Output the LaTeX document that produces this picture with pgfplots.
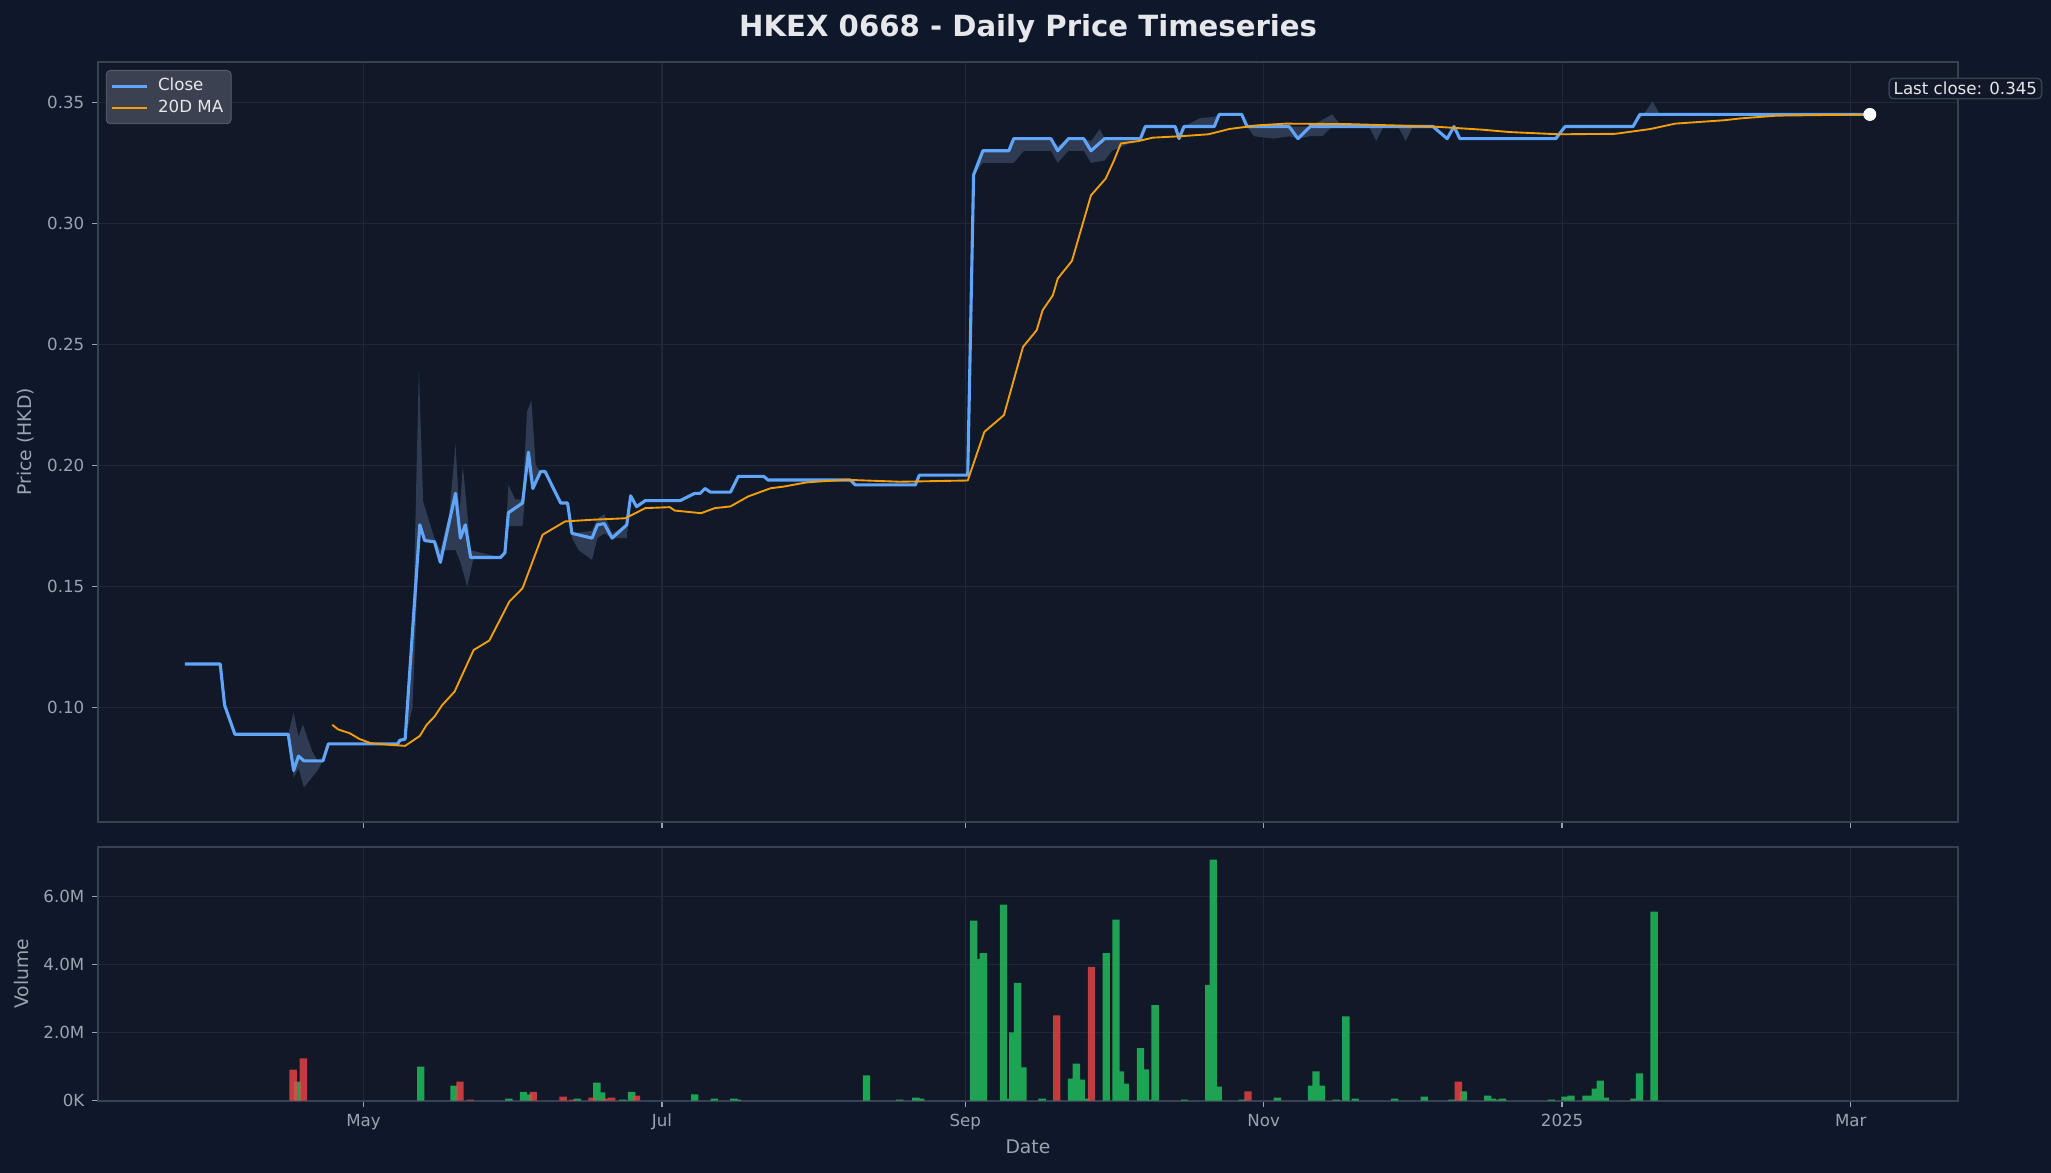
\documentclass[border=0pt]{standalone}
\usepackage{fontspec}
\setmainfont{DejaVu Sans}
\usepackage{pgfplots}
\pgfplotsset{compat=1.18}

\definecolor{figbg}{HTML}{0F172A}
\definecolor{axbg}{HTML}{111827}
\definecolor{spine}{HTML}{374151}
\definecolor{gridc}{HTML}{1F2738}
\definecolor{ticklbl}{HTML}{9CA3AF}
\definecolor{titlec}{HTML}{E5E7EB}
\definecolor{closec}{HTML}{60A5FA}
\definecolor{mac}{HTML}{F59E0B}
\definecolor{bandc}{HTML}{2E3B52}
\definecolor{upc}{HTML}{22C55E}
\definecolor{downc}{HTML}{EF4444}
\definecolor{legfill}{HTML}{3B4150}
\definecolor{legedge}{HTML}{566072}

\pgfplotsset{
  darkax/.style={
    scale only axis,
    width=892.8pt,
    xmin=-54.3, xmax=325.9,
    axis background/.style={fill=axbg},
    axis line style={spine, line width=0.9pt},
    tick align=outside,
    xtick pos=bottom, ytick pos=left,
    major tick length=3pt,
    every tick/.style={ticklbl, line width=0.7pt},
    tick label style={font=\fontsize{8}{9.6}\selectfont, text=ticklbl},
    label style={font=\fontsize{9}{10.8}\selectfont, text=ticklbl},
    /pgf/number format/assume math mode=true,
    grid=major,
    major grid style={gridc, line width=0.6pt},
    xtick={0,61,123,184,245,304},
  }
}

\begin{document}
\begin{tikzpicture}
\fill[figbg] (0pt,0pt) rectangle (984.5pt,563pt);
\path[use as bounding box] (0pt,0pt) rectangle (984.5pt,563pt);

% price panel
\begin{axis}[darkax,
  at={(47pt,168.6pt)}, anchor=south west,
  height=364.8pt,
  ymin=0.0529, ymax=0.3668,
  ytick={0.10,0.15,0.20,0.25,0.30,0.35},
  yticklabel style={/pgf/number format/.cd, fixed, fixed zerofill, precision=2},
  xticklabels={},
  ylabel={Price (HKD)},
  ylabel style={at={(axis description cs:-0.0388,0.5)}, anchor=center},
  legend style={at={(rel axis cs:0,1)}, anchor=north west, xshift=3.8pt, yshift=-4pt,
    fill=legfill, draw=legedge, rounded corners=2pt, text=titlec,
    font=\fontsize{8}{9.6}\selectfont, inner sep=1.8pt, row sep=-1pt,
    /tikz/every odd column/.append style={column sep=2.5pt}},
  legend cell align=left,
]
% high-low range
\addplot[forget plot, draw=none, fill=bandc] coordinates {
(-15.4,0.089)(-14.3,0.098)(-13.3,0.088)(-12.4,0.093)(-10.5,0.082)(-9.4,0.078)(-8.3,0.078)(-7.2,0.085)
(-8.3,0.078)(-9.4,0.074)(-12.2,0.067)(-13.3,0.075)(-14.3,0.071)(-15.4,0.089)};
\addplot[forget plot, draw=none, fill=bandc] coordinates {
(7.0,0.085)(8.5,0.087)(10.3,0.15)(11.3,0.24)(12.2,0.185)(14.5,0.17)(15.7,0.165)(17.5,0.18)
(18.8,0.209)(19.6,0.18)(20.3,0.20)(21.9,0.165)(28,0.162)(28.9,0.164)(29.6,0.192)(31,0.186)
(32.5,0.186)(33.4,0.222)(34.3,0.227)(35.2,0.20)(36.2,0.1975)(37.1,0.1975)(40.3,0.1845)
(41.7,0.1845)(42.6,0.172)(46.7,0.173)(47.8,0.178)(49.2,0.180)(50.8,0.172)(53.8,0.1755)
(54.6,0.1875)(55.8,0.183)(57.6,0.1855)
(55.8,0.183)(54.6,0.1875)(53.8,0.170)(50.8,0.170)(49.2,0.172)(47.8,0.170)(46.7,0.161)
(44,0.165)(42.6,0.170)(41.7,0.1845)(40.3,0.1845)(37.1,0.1975)(36.2,0.1975)(34.6,0.19)
(33.5,0.198)(32.5,0.175)(29.6,0.175)(28.9,0.164)(28,0.162)(22.5,0.162)(21.2,0.150)
(19.8,0.160)(18.8,0.165)(16.5,0.165)(15.7,0.160)(14.5,0.1685)(12.5,0.169)(11.5,0.1755)
(10,0.10)(8.5,0.087)(7,0.085)};
\addplot[forget plot, draw=none, fill=bandc] coordinates {
(124.7,0.32)(126.6,0.33)(131.9,0.33)(132.9,0.335)(140.5,0.335)(141.9,0.332)(144.1,0.335)
(147.2,0.335)(148.7,0.334)(150.5,0.339)(151.5,0.335)(158.8,0.335)(159.8,0.34)(165.9,0.34)
(166.7,0.337)(167.7,0.34)(171,0.3435)(173.9,0.344)(174.9,0.345)(179.5,0.345)(180.6,0.34)
(189.2,0.34)(191,0.34)(193.5,0.34)(198,0.345)(200,0.34)
(198,0.34)(196,0.336)(193.5,0.336)(191,0.335)(189.2,0.336)(186,0.335)(182,0.336)
(180.6,0.34)(179.5,0.345)(174.9,0.345)(173.9,0.34)(167.7,0.34)(166.7,0.335)(165.9,0.34)
(159.8,0.34)(158.8,0.335)(153,0.33)(151.5,0.326)(148.7,0.325)(147.2,0.33)(144.1,0.33)
(141.9,0.325)(140.5,0.33)(135,0.33)(132.9,0.325)(126.6,0.325)(124.7,0.32)};
\addplot[forget plot, draw=none, fill=bandc] coordinates {
(205.5,0.34)(207,0.334)(208.5,0.34)};
\addplot[forget plot, draw=none, fill=bandc] coordinates {
(211.5,0.34)(213,0.334)(214.5,0.34)};
\addplot[forget plot, draw=none, fill=bandc] coordinates {
(259.5,0.34)(262,0.346)(263.5,0.3505)(265,0.345)(260.9,0.345)(259.5,0.34)};

% close
\addplot[closec, line width=1.5pt, line join=round] coordinates {
(-36.5,0.118)(-29.3,0.118)(-28.4,0.101)(-26.3,0.089)(-15.4,0.089)(-14.3,0.074)(-13.3,0.080)
(-12.2,0.078)(-8.3,0.078)(-7.2,0.085)(7.0,0.085)(7.4,0.0865)(8.5,0.087)(11.5,0.1755)
(12.5,0.169)(14.5,0.1685)(15.7,0.160)(18.8,0.1885)(19.8,0.170)(20.8,0.1755)(21.9,0.162)
(28.0,0.162)(28.9,0.164)(29.6,0.1805)(32.5,0.1845)(33.7,0.2055)(34.6,0.1905)(36.2,0.1975)
(37.1,0.1975)(40.3,0.1845)(41.7,0.1845)(42.6,0.172)(46.7,0.170)(47.8,0.1755)(49.2,0.176)
(50.8,0.170)(53.8,0.1755)(54.6,0.1875)(55.8,0.183)(57.6,0.1855)(64.7,0.1855)(67.7,0.1885)
(68.8,0.1885)(69.8,0.1905)(70.9,0.189)(75.0,0.189)(76.6,0.1955)(81.8,0.1955)(82.7,0.194)
(99.5,0.194)(100.5,0.192)(112.8,0.192)(113.6,0.196)(123.5,0.196)(124.7,0.320)(126.6,0.330)
(131.9,0.330)(132.9,0.335)(140.5,0.335)(141.9,0.330)(144.1,0.335)(147.2,0.335)(148.7,0.330)
(151.5,0.335)(158.8,0.335)(159.8,0.340)(165.9,0.340)(166.7,0.335)(167.7,0.340)(173.9,0.340)
(174.9,0.345)(179.5,0.345)(180.6,0.340)(189.2,0.340)(191.0,0.335)(193.5,0.340)(218.6,0.340)
(221.5,0.335)(222.9,0.340)(224.1,0.335)(243.7,0.335)(245.6,0.340)(259.5,0.340)(260.9,0.345)
(307.9,0.345)};
\addlegendentry{Close}

% 20-day moving average
\addplot[mac, line width=0.9pt, line join=round] coordinates {
(-6.4,0.0929)(-5.2,0.0910)(-2.8,0.0894)(-0.8,0.0870)(1.5,0.0853)(5.6,0.0846)(8.5,0.0842)
(11.5,0.0883)(12.9,0.0929)(14.5,0.0963)(16.1,0.1011)(18.6,0.1066)(22.5,0.1238)(25.7,0.1277)
(29.8,0.1438)(32.5,0.1493)(36.6,0.1714)(41.2,0.1769)(46.7,0.1776)(53.5,0.1782)(57.6,0.1824)
(62.6,0.1828)(63.6,0.1814)(69.0,0.1803)(71.8,0.1824)(75.0,0.1831)(78.6,0.1872)(83.2,0.1906)
(85.9,0.1913)(90.5,0.1930)(93.2,0.1934)(98.7,0.1941)(109.6,0.1933)(123.5,0.1938)
(126.9,0.2139)(130.9,0.2208)(134.8,0.2490)(137.6,0.2559)(138.8,0.2641)(140.9,0.2703)
(141.9,0.2772)(144.8,0.2845)(148.7,0.3116)(151.7,0.3185)(153.4,0.3260)(154.8,0.3330)
(158.4,0.3340)(161.3,0.3354)(167.0,0.3360)(172.7,0.3368)(177.0,0.3390)(182.8,0.3405)
(188.5,0.3412)(201.4,0.3410)(218.6,0.3400)(228.7,0.3387)(234.4,0.3377)(244.4,0.3368)
(255.9,0.3370)(263.1,0.3390)(268.1,0.3412)(278.1,0.3426)(281.7,0.3434)(288.9,0.3445)
(307.9,0.3450)};
\addlegendentry{20D MA}

\addplot[forget plot, only marks, mark=*, mark size=2.9pt, white] coordinates {(307.9,0.345)};
\end{axis}

% volume panel
\begin{axis}[darkax,
  at={(47pt,34.7pt)}, anchor=south west,
  height=121.6pt,
  ymin=0, ymax=7.45,
  ytick={0,2,4,6},
  yticklabels={0K,2.0M,4.0M,6.0M},
  xticklabels={May,Jul,Sep,Nov,2025,Mar},
  xlabel={Date},
  xlabel style={at={(axis description cs:0.5,-0.1826)}, anchor=center},
  ylabel={Volume},
  ylabel style={at={(axis description cs:-0.0409,0.5)}, anchor=center},
]
\addplot[ybar, bar width=1.5, bar shift=0pt, draw=none, fill=upc, fill opacity=0.8] coordinates {
(-13.5,0.56)(11.7,1.00)(18.5,0.44)(29.7,0.06)(32.7,0.26)(33.7,0.18)(43.7,0.06)(47.7,0.53)
(48.7,0.24)(53.0,0.03)(54.8,0.26)(67.7,0.18)(71.7,0.06)(75.7,0.06)(76.5,0.03)(102.8,0.74)
(109.6,0.03)(112.9,0.09)(113.9,0.06)(124.7,5.29)(125.7,4.17)(126.7,4.34)(130.8,5.76)
(131.8,0.06)(132.7,2.01)(133.7,3.46)(134.8,0.98)(138.7,0.06)(144.7,0.65)(145.7,1.09)
(146.7,0.62)(147.7,0.06)(151.8,4.34)(153.8,5.32)(154.7,0.86)(155.7,0.50)(158.8,1.54)
(159.8,0.92)(160.8,0.03)(161.8,2.81)(167.8,0.03)(172.8,3.40)(173.7,7.09)(174.7,0.41)
(179.6,0.03)(186.8,0.09)(193.8,0.44)(194.7,0.86)(195.8,0.44)(198.8,0.03)(200.8,2.48)
(202.7,0.06)(210.8,0.06)(216.8,0.12)(222.5,0.03)(224.8,0.27)(229.8,0.15)(230.7,0.06)
(231.7,0.03)(232.8,0.06)(242.8,0.03)(245.6,0.12)(246.8,0.15)(249.9,0.15)(250.8,0.15)
(251.8,0.35)(252.8,0.59)(253.8,0.09)(259.7,0.06)(260.8,0.80)(263.8,5.56)};
\addplot[ybar, bar width=1.5, bar shift=0pt, draw=none, fill=downc, fill opacity=0.8] coordinates {
(-14.4,0.91)(-12.3,1.24)(19.7,0.56)(21.8,0.03)(34.7,0.26)(40.8,0.12)(42.7,0.03)(46.7,0.09)
(49.5,0.06)(50.7,0.09)(55.8,0.15)(141.7,2.51)(148.8,3.93)(180.8,0.27)(223.8,0.56)};
\end{axis}

\node[font=\fontsize{14}{16.8}\selectfont\bfseries, text=titlec] at (493.5pt,549.3pt)
  {HKEX 0668 - Daily Price Timeseries};
\node[draw=spine, fill=axbg, rounded corners=2pt, text=titlec, line width=0.7pt,
  font=\fontsize{8}{9.6}\selectfont, inner xsep=2.2pt, inner ysep=1.8pt]
  at (943.4pt,520.5pt) {Last close: 0.345};
\end{tikzpicture}
\end{document}
